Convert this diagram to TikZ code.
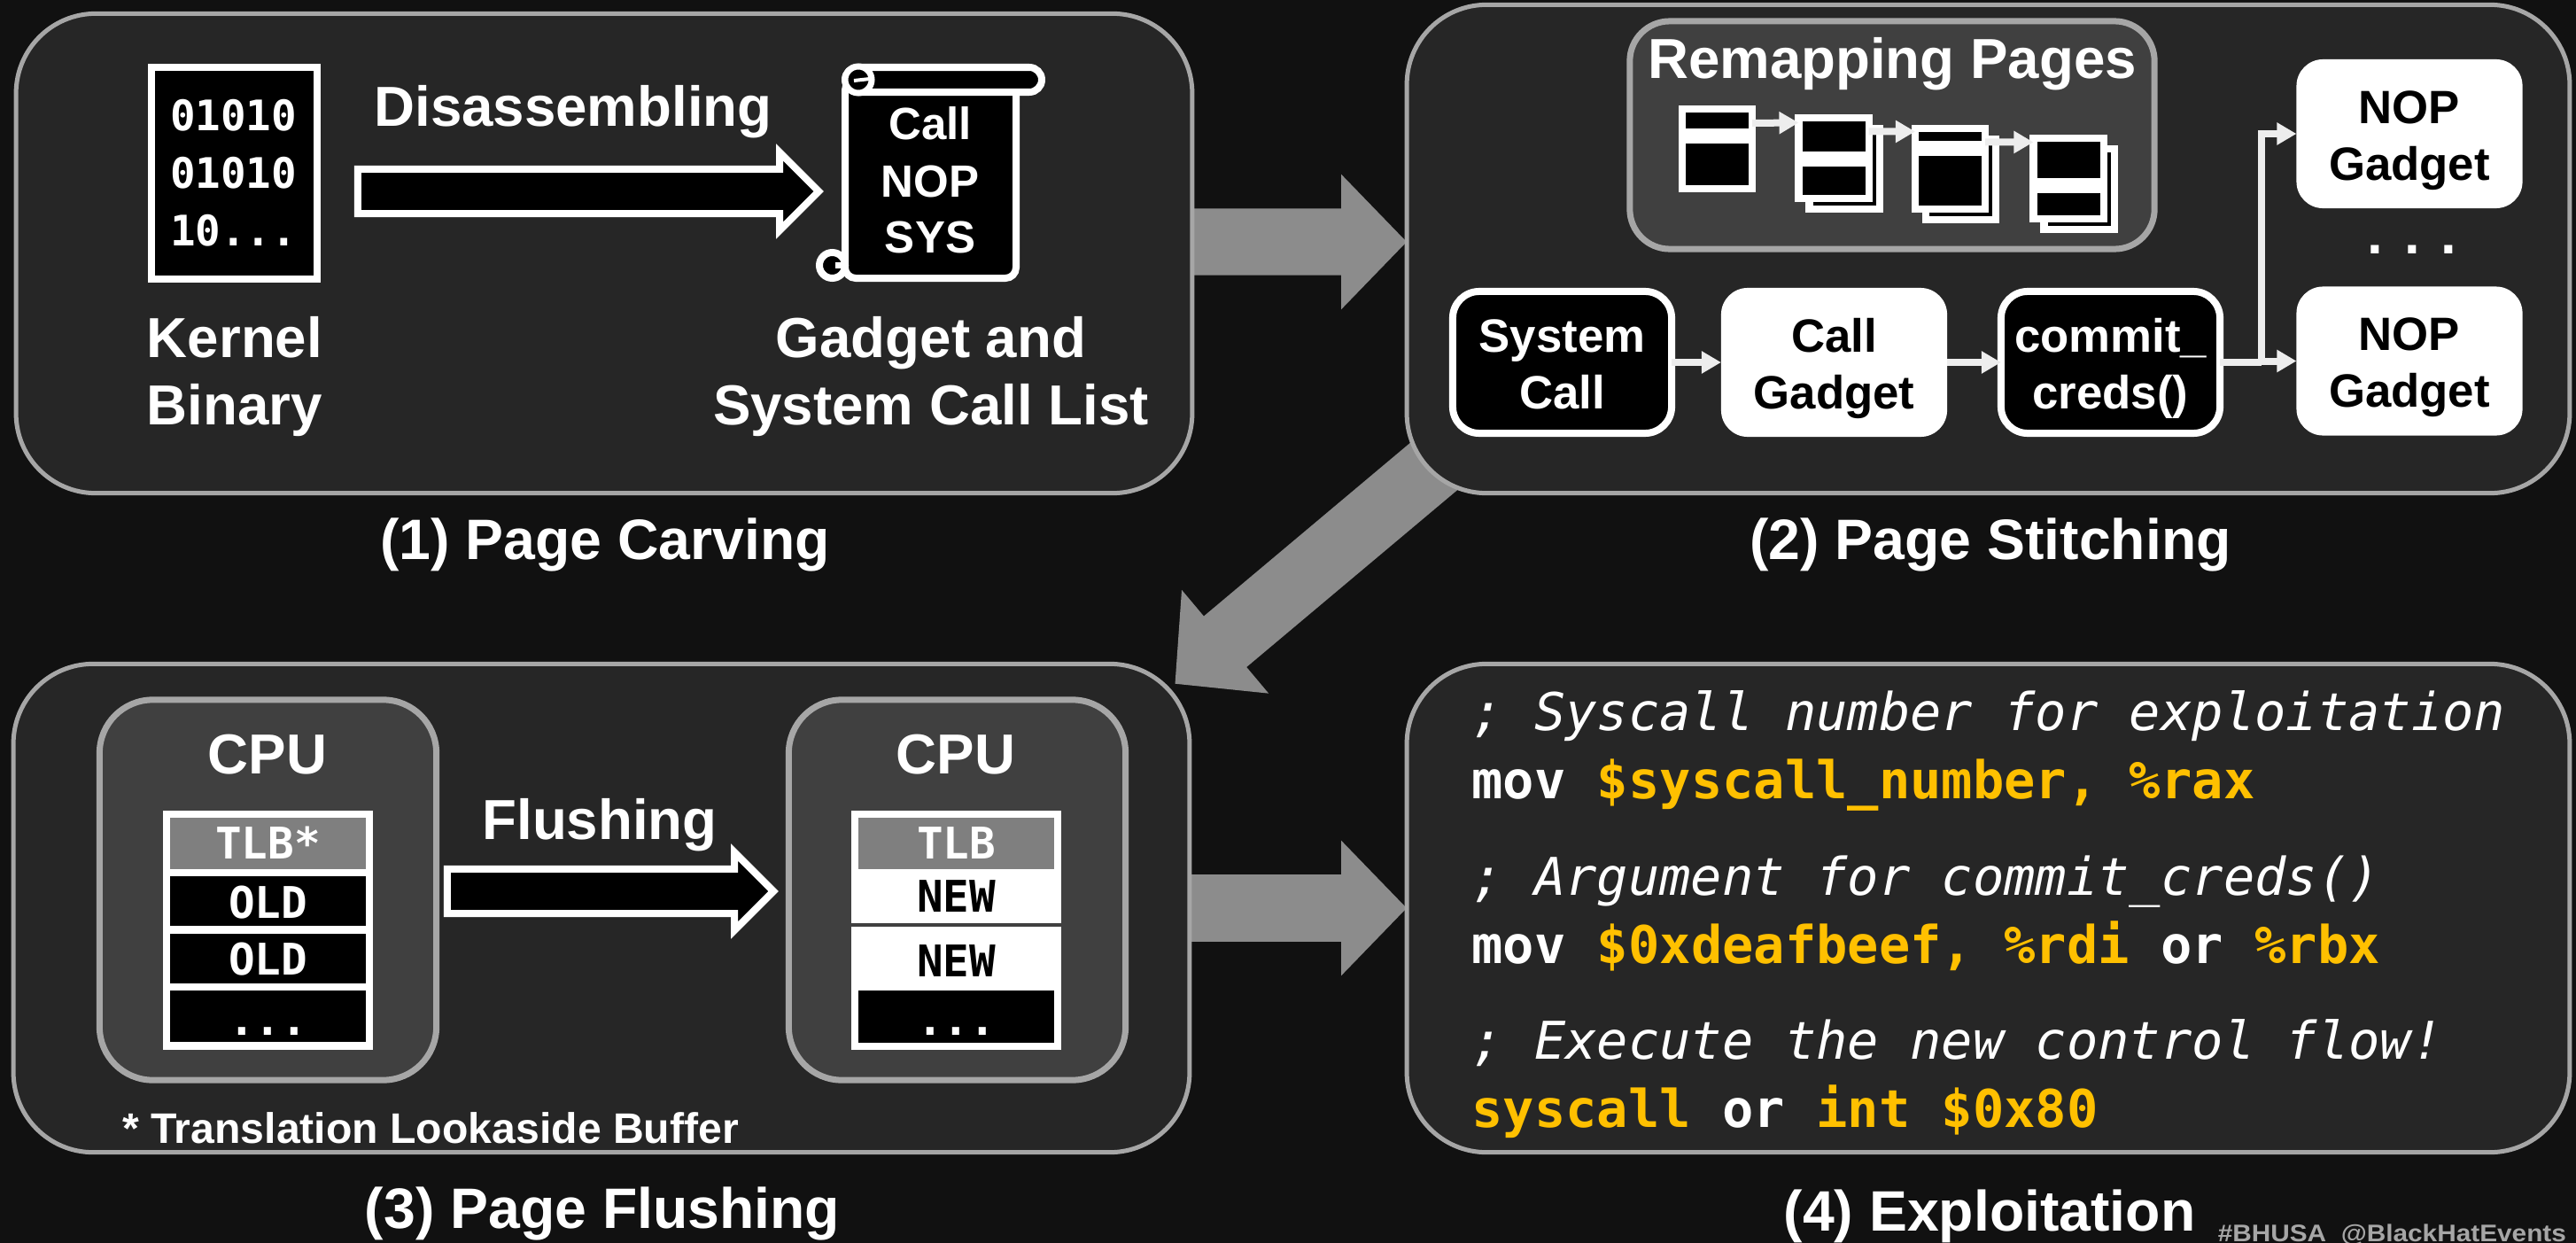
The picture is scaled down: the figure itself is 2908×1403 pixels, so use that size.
\documentclass[tikz,border=0pt]{standalone}
\usepackage{fontspec}
\usepackage{tikz}
\usetikzlibrary{arrows.meta}
\usetikzlibrary{shapes.arrows, backgrounds}
\setmainfont{Liberation Sans}
\newfontfamily\codefont{DejaVu Sans Mono}
\definecolor{back_col}{HTML}{111111}
\definecolor{panel_col}{HTML}{262626}
\definecolor{inner_col}{HTML}{404040}
\definecolor{line_col}{HTML}{A6A6A6}
\definecolor{arrow_col}{HTML}{8C8C8C}
\definecolor{tlb_col}{HTML}{7F7F7F}
\definecolor{code_col}{HTML}{FFC000}
\newcommand{\hilite}[1]{\textcolor{code_col}{#1}}

\begin{document}
\begin{tikzpicture}[x=0.01cm, y=-0.01cm, every node/.style = {inner sep=0pt, outer sep=0pt, text=white, font=\bfseries}]

\tikzstyle{panel} = [rectangle, draw=line_col, fill=panel_col, line width=0.05cm, rounded corners=0.9cm]
\tikzstyle{inner_panel} = [rectangle, draw=line_col, fill=inner_col, line width=0.07cm]
\tikzstyle{big_arrow} = [draw=arrow_col, line width=0.75cm, -{Triangle[length=0.74cm, width=1.48cm]}]
\tikzstyle{hollow_arrow} = [single arrow, draw=white, fill=black, line width=0.08cm, inner ysep=0.21cm, minimum width=0.8cm, single arrow head extend=0.19cm]
\tikzstyle{box_text} = [align=center, font=\bfseries\fontsize{15}{18.3}\selectfont, execute at begin node={\rule{0pt}{33pt}}, execute at end node={\rule[-3.2pt]{0pt}{0pt}}]
\tikzstyle{black_box} = [rectangle, box_text, draw=white, fill=black, line width=0.08cm, rounded corners=0.3cm, minimum width=2.47cm, minimum height=1.6cm]
\tikzstyle{white_box} = [rectangle, box_text, fill=white, text=black, rounded corners=0.3cm, minimum width=2.55cm, minimum height=1.68cm]
\tikzstyle{flow_arrow} = [draw=white!93!black, line width=0.08cm, -{Triangle[length=0.22cm, width=0.24cm]}]
\tikzstyle{page_node} = [rectangle, draw=white, fill=black, line width=0.08cm, minimum width=0.79cm, minimum height=0.90cm]
\tikzstyle{big_text} = [anchor=base, align=center, font=\bfseries\fontsize{18.1}{21.6}\selectfont]
\tikzstyle{title_text} = [anchor=base, font=\bfseries\fontsize{18.3}{22}\selectfont]
\tikzstyle{mono_text} = [anchor=base, font=\codefont\bfseries\fontsize{14}{17}\selectfont]
\tikzstyle{code_text} = [anchor=base west, font=\codefont\bfseries\fontsize{16.7}{20}\selectfont]
\tikzstyle{note_text} = [anchor=base west, font=\codefont\itshape\fontsize{16.7}{20}\selectfont]
\tikzstyle{cell} = [rectangle, minimum width=2.21cm]

\useasboundingbox (0,0) rectangle (2908,1403);

% the four panels
\node[panel, minimum width=13.27cm, minimum height=5.41cm] (carving) at (682,286) {};
\node[panel, minimum width=13.12cm, minimum height=5.51cm] (stitching) at (2244.5,281) {};
\node[panel, minimum width=13.27cm, minimum height=5.51cm] (flushing) at (679,1025) {};
\node[panel, minimum width=13.12cm, minimum height=5.51cm] (exploit) at (2244.5,1025) {};

\begin{scope}[on background layer]
\fill[back_col] (0,0) rectangle (2908,1403);
\draw[big_arrow] ([yshift=0.13cm]carving.east) -- ([yshift=0.08cm]stitching.west);
\draw[big_arrow] ([shift={(0.6cm,0.55cm)}]stitching.south west) -- ([shift={(-0.165cm,-0.225cm)}]flushing.north east);
\draw[big_arrow] (flushing.east) -- (exploit.west);
\end{scope}

\node[title_text] (title_carving) at (683,631) {(1) Page Carving};
\node[title_text] (title_stitching) at (2247,631) {(2) Page Stitching};
\node[title_text] (title_flushing) at (680,1386) {(3) Page Flushing};
\node[title_text] (title_exploit) at (2246,1389) {(4) Exploitation};
\node[anchor=base east, xscale=1.1, text=line_col, font=\bfseries\fontsize{7.7}{9}\selectfont] (tag) at (2897,1401) {\#BHUSA\ \ @BlackHatEvents};

% page carving
\node[rectangle, draw=white, fill=black, line width=0.08cm, minimum width=1.87cm, minimum height=2.39cm] (binary) at (264.5,195.5) {};
\node[anchor=base west, font=\codefont\bfseries\fontsize{13.5}{18.4}\selectfont] (bits_a) at (192,147) {01010};
\node[anchor=base west, font=\codefont\bfseries\fontsize{13.5}{18.4}\selectfont] (bits_b) at (192,212) {01010};
\node[anchor=base west, font=\codefont\bfseries\fontsize{13.5}{18.4}\selectfont] (bits_c) at (192,277) {10...};
\node[big_text] (kernel) at (265,403) {Kernel};
\node[big_text] (kernel_b) at (265,479) {Binary};
\node[hollow_arrow, minimum height=5.2cm] (disasm) at (651.5,216) {};
\node[big_text] (disasm_text) at (647,143) {Disassembling};

\filldraw[draw=white, fill=black, line width=0.08cm, rounded corners=0.12cm] (954,90) -- (954,314) -- (1147,314) -- (1147,90) -- cycle;
\filldraw[draw=white, fill=black, line width=0.08cm, rounded corners=0.14cm] (954,76) rectangle (1176,104);
\filldraw[draw=white, fill=black, line width=0.07cm] (969,90) circle (15);
\filldraw[draw=white, fill=black, line width=0.08cm] (939.5,299.5) circle (14.5);
\draw[white, line width=0.04cm] (964,91) -- (982,89);
\draw[white, line width=0.07cm] (943,299) -- (956,299);
\node[anchor=base, align=center, font=\bfseries\fontsize{14.5}{18.35}\selectfont] (gadget_list) at (1050,157) {Call};
\node[anchor=base, align=center, font=\bfseries\fontsize{14.5}{18.35}\selectfont] (gadget_nop) at (1050,222) {NOP};
\node[anchor=base, align=center, font=\bfseries\fontsize{14.5}{18.35}\selectfont] (gadget_sys) at (1050,285) {SYS};
\node[big_text] (list_a) at (1051,403) {Gadget and};
\node[big_text] (list_b) at (1051,479) {System Call List};

% page stitching
\node[inner_panel, minimum width=5.92cm, minimum height=2.57cm, rounded corners=0.45cm] (remap) at (2136,152.5) {};
\node[big_text] (remap_text) at (2136,88) {Remapping Pages};

\node[page_node] (back_b) at (2082,190.5) {};
\node[page_node] (back_c) at (2213.5,202.5) {};
\node[page_node] (back_d) at (2347,213.5) {};
\foreach \n/\x/\y/\t/\b in {a/1938.5/168/145/162, b/2070/178.5/171/188, c/2201.5/190.5/159/176, d/2335/201.5/201/218}{
	\node[page_node] (page_\n) at (\x,\y) {};
	\fill[white] (\x-40,\t) rectangle (\x+40,\b);
}
\draw[flow_arrow] ([yshift=-0.16cm]page_a.north east) -- ([yshift=-0.05cm]page_b.north west);
\draw[flow_arrow] ([yshift=-0.15cm]page_b.north east) -- ([yshift=-0.03cm]page_c.north west);
\draw[flow_arrow] ([yshift=-0.15cm]page_c.north east) -- ([yshift=-0.04cm]page_d.north west);

\node[black_box] (syscall) at (1763.5,409) {System\\Call};
\node[white_box] (call_gadget) at (2070.5,409) {Call\\Gadget};
\node[black_box] (commit) at (2382.5,409) {commit\_\\creds()};
\node[white_box] (nop_top) at (2720,151) {NOP\\Gadget};
\node[white_box] (nop_bottom) at (2720,407.5) {NOP\\Gadget};
\node[big_text] (nop_dots) at (2723,286) {. . .};
\coordinate (branch) at (2553,409);

\draw[flow_arrow] (syscall.east) -- (call_gadget.west);
\draw[flow_arrow] (call_gadget.east) -- (commit.west);
\draw[draw=white!93!black, line width=0.08cm] (commit.east) -- (branch);
\draw[flow_arrow] (branch |- nop_bottom.west) -- (nop_bottom.west);
\draw[flow_arrow] (branch) |- (nop_top.west);

% page flushing
\node[inner_panel, minimum width=3.8cm, minimum height=4.29cm, rounded corners=0.6cm] (cpu_old) at (302.5,1004.5) {};
\node[inner_panel, minimum width=3.8cm, minimum height=4.29cm, rounded corners=0.6cm] (cpu_new) at (1080.5,1004.5) {};
\node[big_text] (cpu_old_text) at (302,873) {CPU};
\node[big_text] (cpu_new_text) at (1079,873) {CPU};

\node[rectangle, fill=white, minimum width=2.37cm, minimum height=2.7cm] (table_old) at (302.5,1050) {};
\node[cell, fill=tlb_col, minimum height=0.58cm] (tlb_old) at (302.5,952) {};
\node[cell, fill=black, minimum height=0.56cm] (old_a) at (302.5,1017) {};
\node[cell, fill=black, minimum height=0.56cm] (old_b) at (302.5,1082) {};
\node[cell, fill=black, minimum height=0.58cm] (rest_old) at (302.5,1147) {};
\node[mono_text] at (302.5,969) {TLB*};
\node[mono_text] at (302.5,1036) {OLD};
\node[mono_text] at (302.5,1100) {OLD};
\node[mono_text] at (302.5,1168) {...};

\node[rectangle, fill=white, minimum width=2.37cm, minimum height=2.7cm] (table_new) at (1079.5,1050) {};
\node[cell, fill=tlb_col, minimum height=0.58cm] (tlb_new) at (1079.5,952) {};
\node[rectangle, fill=inner_col, minimum width=2.37cm, minimum height=0.04cm] (split_new) at (1079.5,1044) {};
\node[cell, fill=black, minimum height=0.59cm] (rest_new) at (1079.5,1147.5) {};
\node[mono_text] at (1079.5,969) {TLB};
\node[mono_text, text=black] at (1079.5,1029) {NEW};
\node[mono_text, text=black] at (1079.5,1102) {NEW};
\node[mono_text] at (1079.5,1168) {...};

\node[hollow_arrow, minimum height=3.68cm] (flush_arrow) at (676.5,1006) {};
\node[big_text] (flush_text) at (677,947) {Flushing};
\node[anchor=base west, font=\bfseries\fontsize{13.7}{16}\selectfont] (footnote) at (138,1290) {* Translation Lookaside Buffer};

% exploitation
\node[note_text] (note_a) at (1661.5,824) {; Syscall number for exploitation};
\node[code_text] (code_a) at (1661.5,901) {mov \hilite{\$syscall\_number, \%rax}};
\node[note_text] (note_b) at (1661.5,1010) {; Argument for commit\_creds()};
\node[code_text] (code_b) at (1661.5,1087) {mov \hilite{\$0xdeafbeef, \%rdi} or \hilite{\%rbx}};
\node[note_text] (note_c) at (1661.5,1195) {; Execute the new control flow!};
\node[code_text] (code_c) at (1661.5,1272) {\hilite{syscall} or \hilite{int \$0x80}};
\end{tikzpicture}
\end{document}
